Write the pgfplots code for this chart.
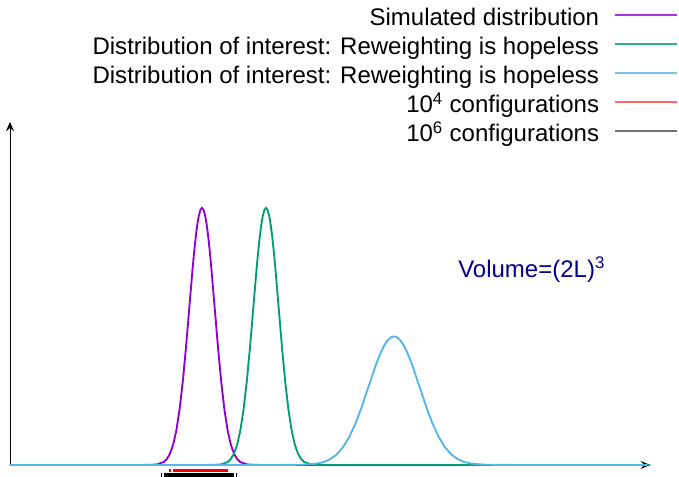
\documentclass[border=0pt]{standalone}
\usepackage{pgfplots}
\pgfplotsset{compat=1.18}
\usepackage{fontspec}
\setmainfont{Liberation Sans}
\usetikzlibrary{arrows.meta}

\definecolor{gpviolet}{HTML}{9400D3}
\definecolor{gpgreen}{HTML}{009E73}
\definecolor{gpblue}{HTML}{56B4E9}
\definecolor{gpnavy}{HTML}{00008B}

\pgfplotsset{
  gplegendline/.style={legend image code/.code={%
    \draw[##1, line width=1.3pt] (0pt,0.33em) -- (47pt,0.33em);}},
}

\begin{document}
\begin{tikzpicture}
\begin{axis}[
  scale only axis,
  width=480pt, height=257.25pt,
  xmin=0, xmax=10, ymin=0, ymax=1.3346,
  axis lines=left,
  axis line style={line width=0.6pt, -{Stealth[length=7pt,width=6pt,inset=2.5pt]}},
  xtick=\empty, ytick=\empty,
  clip=false,
  unbounded coords=jump,
  legend plot pos=right,
  legend cell align=right,
  gplegendline,
  legend style={draw=none, fill=none, inner sep=0pt, outer sep=0pt,
    font=\fontsize{18}{21.75}\selectfont,
    at={(axis cs:10.44,1.777)}, anchor=north east,
    nodes={inner sep=0pt, text height=13pt, text depth=4pt},
    row sep=4.75pt, column sep=11pt},
]
% simulated distribution, centred at 3
\addplot[gpviolet, line width=1.4pt, forget plot] coordinates {
 (0,0) (2.1,0) (2.2,0.0003) (2.3,0.0022) (2.4,0.0111) (2.45,0.0228)
 (2.5,0.0439) (2.55,0.0796) (2.6,0.1353) (2.65,0.2163) (2.7,0.3247)
 (2.75,0.4578) (2.8,0.6065) (2.85,0.7548) (2.875,0.8226) (2.9,0.8825)
 (2.925,0.9321) (2.95,0.9692) (2.975,0.9922)
 (3,1) (3.025,0.9922) (3.05,0.9692) (3.075,0.9321) (3.1,0.8825)
 (3.125,0.8226) (3.15,0.7548) (3.2,0.6065)
 (3.25,0.4578) (3.3,0.3247) (3.35,0.2163) (3.4,0.1353) (3.45,0.0796)
 (3.5,0.0439) (3.55,0.0228) (3.6,0.0111) (3.7,0.0022) (3.8,0.0003)
 (3.9,0) (10,0)};
% first distribution of interest, centred at 4
\addplot[gpgreen, line width=1.4pt, forget plot] coordinates {
 (0,0) (3.1,0) (3.2,0.0003) (3.3,0.0022) (3.4,0.0111) (3.45,0.0228)
 (3.5,0.0439) (3.55,0.0796) (3.6,0.1353) (3.65,0.2163) (3.7,0.3247)
 (3.75,0.4578) (3.8,0.6065) (3.85,0.7548) (3.875,0.8226) (3.9,0.8825)
 (3.925,0.9321) (3.95,0.9692) (3.975,0.9922)
 (4,1) (4.025,0.9922) (4.05,0.9692) (4.075,0.9321) (4.1,0.8825)
 (4.125,0.8226) (4.15,0.7548) (4.2,0.6065)
 (4.25,0.4578) (4.3,0.3247) (4.35,0.2163) (4.4,0.1353) (4.45,0.0796)
 (4.5,0.0439) (4.55,0.0228) (4.6,0.0111) (4.7,0.0022) (4.8,0.0003)
 (4.9,0) (10,0)};
% second distribution of interest, centred at 6, twice as wide
\addplot[gpblue, line width=1.4pt, forget plot] coordinates {
 (0,0) (4.2,0) (4.4,0.0002) (4.6,0.0011) (4.8,0.0056) (4.9,0.0114)
 (5,0.0220) (5.1,0.0398) (5.2,0.0677) (5.3,0.1082) (5.4,0.1623)
 (5.5,0.2289) (5.6,0.3033) (5.7,0.3774) (5.75,0.4113) (5.8,0.4412)
 (5.85,0.4661) (5.9,0.4846) (5.95,0.4961)
 (6,0.5) (6.05,0.4961) (6.1,0.4846) (6.15,0.4661) (6.2,0.4412)
 (6.25,0.4113) (6.3,0.3774) (6.4,0.3033)
 (6.5,0.2289) (6.6,0.1623) (6.7,0.1082) (6.8,0.0677) (6.9,0.0398)
 (7,0.0220) (7.1,0.0114) (7.2,0.0056) (7.4,0.0011) (7.6,0.0002)
 (7.8,0) (9.95,0)};
% sampled configurations
\addplot[red, line width=2.3pt, forget plot] coordinates {
 (2.48,-0.021) (2.51,-0.021) (2.53,nan)
 (2.55,-0.021) (3.41,-0.021)};
\addplot[black, line width=3pt, forget plot] coordinates {
 (2.36,-0.039) (2.38,-0.039) (2.40,nan)
 (2.41,-0.039) (3.50,-0.039) (3.52,nan)
 (3.53,-0.039) (3.55,-0.039)};

\addlegendimage{gpviolet!80!white}
\addlegendentry{Simulated distribution}
\addlegendimage{gpgreen!80!white}
\addlegendentry{Distribution of interest: Reweighting is hopeless}
\addlegendimage{gpblue!80!white}
\addlegendentry{Distribution of interest: Reweighting is hopeless}
\addlegendimage{red!60!white}
\addlegendentry{10\textsuperscript{4} configurations}
\addlegendimage{black!55}
\addlegendentry{10\textsuperscript{6} configurations}

\node[gpnavy, anchor=base west, inner sep=0pt, font=\fontsize{18}{21.75}\selectfont]
  at (axis cs:7.0,0.73) {Volume=(2L)\textsuperscript{3}};

\coordinate (bbl) at (axis cs:-0.156,-0.0467);
\coordinate (btr) at (axis cs:10.453,1.809);
\end{axis}
\pgfresetboundingbox
\path (bbl) rectangle (btr);
\end{tikzpicture}
\end{document}
